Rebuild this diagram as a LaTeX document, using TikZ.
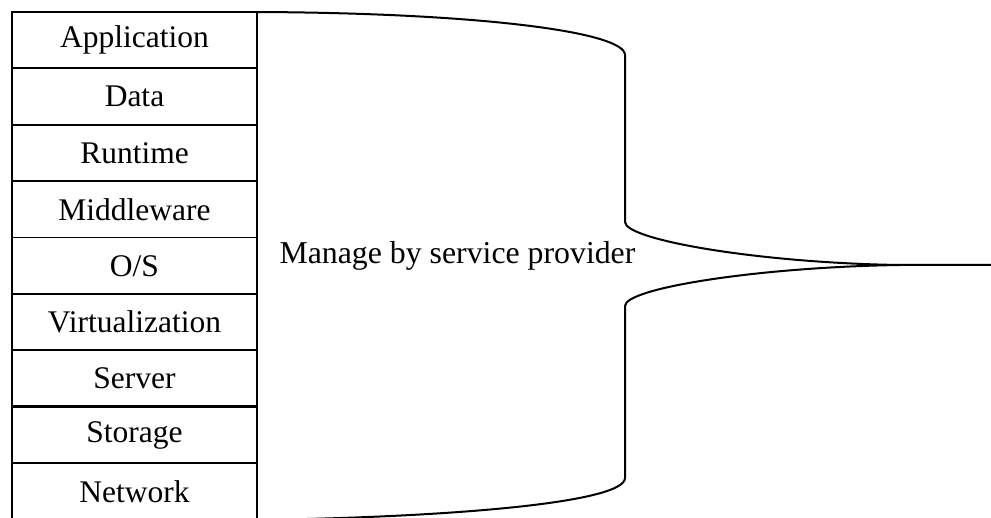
\documentclass[tikz,border=0pt]{standalone}
\usepackage{fontspec}
\setmainfont{Liberation Serif}
\tikzset{
  layerbox/.style={draw=black, line width=1.8pt, minimum width=245pt, minimum height=56.4pt, inner sep=0pt, outer sep=0pt, anchor=north west, font=\fontsize{31.5}{36}\selectfont},
  bracel/.style={draw=black, line width=2pt},
}
\begin{document}
\begin{tikzpicture}[x=1pt,y=-1pt]
\useasboundingbox (0,0) rectangle (991,518);
\node[layerbox] (r1) at (12,12) {Application};
\node[layerbox] (r2) at (12,68.4) {Data};
\node[layerbox] (r3) at (12,124.8) {Runtime};
\node[layerbox] (r4) at (12,181.2) {Middleware};
\node[layerbox] (r5) at (12,237.6) {O/S};
\node[layerbox] (r6) at (12,294.0) {Virtualization};
\node[layerbox] (r7) at (12,350.4) {Server};
\node[layerbox] (r8) at (12,406.8) {Storage};
\node[layerbox] (r9) at (12,463.2) {Network};
\draw[line width=3pt] (r7.south west) -- (r7.south east);
\node[font=\fontsize{31.8}{36}\selectfont, anchor=base] (lab) at (457.5,264) {Manage by service provider};
\coordinate (tip) at (991,265);
\draw[bracel] (r1.north east) .. controls (480,13) and (625,32) .. (625,55)
  -- (625,222) .. controls (625,240) and (760,263) .. (900,265) -- (tip);
\draw[bracel] (900,265) .. controls (760,267) and (625,288) .. (625,306)
  -- (625,478) .. controls (625,502) and (460,517) .. (257,520);
\end{tikzpicture}
\end{document}
